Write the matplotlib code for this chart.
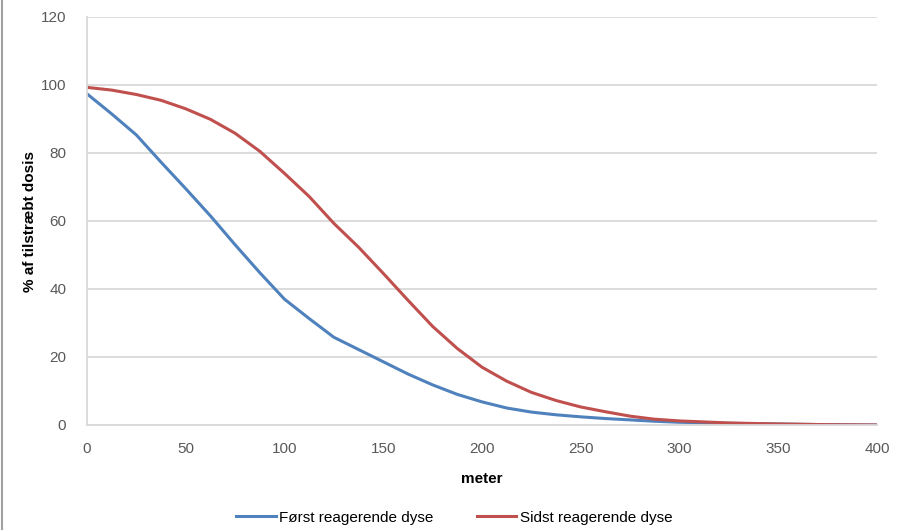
import matplotlib.pyplot as plt
from matplotlib.lines import Line2D

# distance in meter and % of intended dose
meter = [0, 12.5, 25, 37.5, 50, 62.5, 75, 87.5, 100, 112.5, 125, 137.5, 150, 162.5,
         175, 187.5, 200, 212.5, 225, 237.5, 250, 262.5, 275, 287.5, 300, 325, 350, 375, 400]
foerst = [97.4, 91.5, 85.3, 77.3, 69.5, 61.5, 53.0, 44.8, 37.0, 31.3, 25.8, 22.2, 18.6, 15.0,
          11.8, 9.0, 6.8, 5.0, 3.8, 3.0, 2.4, 1.9, 1.5, 1.1, 0.8, 0.5, 0.3, 0.1, 0.0]
sidst = [99.3, 98.5, 97.2, 95.5, 93.0, 89.9, 85.8, 80.5, 74.0, 67.2, 59.3, 52.3, 44.6, 36.7,
         29.0, 22.5, 17.0, 12.9, 9.6, 7.2, 5.3, 3.9, 2.6, 1.7, 1.2, 0.6, 0.3, 0.1, 0.0]

labels = ["Først reagerende dyse", "Sidst reagerende dyse"]
colors = ["#4F81BD", "#C0504D"]

plt.rcParams['font.family'] = ['Liberation Sans', 'DejaVu Sans']

fig = plt.figure(figsize=(9.06, 5.30), dpi=100)
ax = fig.add_axes([87 / 906, 1 - 425 / 530, 790 / 906, 408 / 530])

ax.plot(meter, foerst, color=colors[0], lw=2.2, label=labels[0])
ax.plot(meter, sidst, color=colors[1], lw=2.2, label=labels[1])

ax.set_xlim(0, 400)
ax.set_ylim(0, 120)
ax.set_xticks(range(0, 401, 50))
ax.set_yticks(range(0, 121, 20))
ax.grid(axis='y', color='#D9D9D9', lw=1.3)
ax.set_axisbelow(True)
for s in ['top', 'right']:
    ax.spines[s].set_visible(False)
for s in ['left', 'bottom']:
    ax.spines[s].set_color('#D9D9D9')
    ax.spines[s].set_linewidth(1.3)
ax.tick_params(length=0, labelsize=11, colors='#595959')
ax.tick_params(axis='x', pad=12)
ax.tick_params(axis='y', pad=15)

ax.set_xlabel("meter", fontsize=11, fontweight='bold', labelpad=12)
ax.set_ylabel("% af tilstræbt dosis", fontsize=11, fontweight='bold')
ax.yaxis.set_label_coords(-0.063, 0.5)

ax.legend(loc='upper center', bbox_to_anchor=(0.465, -0.184), ncol=2, frameon=False,
          fontsize=11, handlelength=2.6, columnspacing=2.8, handletextpad=0.25,
          borderpad=0.2)

# grey frame line at left edge of the picture
fig.add_artist(Line2D([2 / 906, 2 / 906], [0, 1], transform=fig.transFigure,
                      color='#A0A0A0', lw=1.5))

fig.savefig("out.png", dpi=100)
